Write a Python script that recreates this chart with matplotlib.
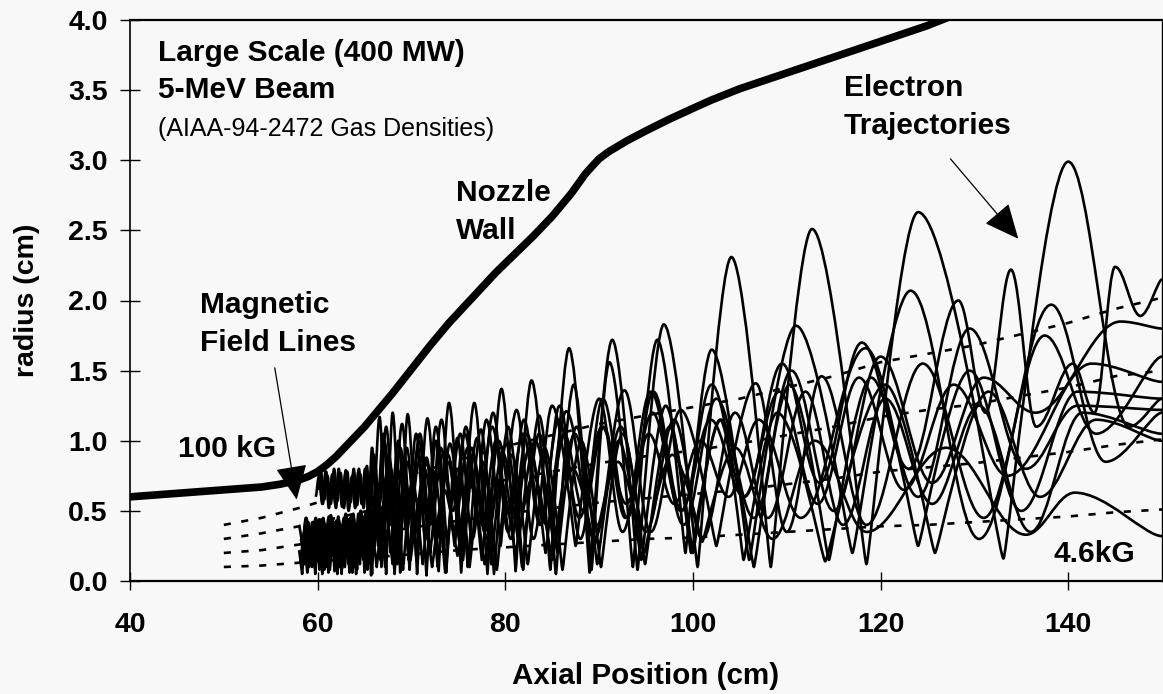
import matplotlib
matplotlib.use("Agg")
import matplotlib.pyplot as plt
from matplotlib.path import Path
from matplotlib.patches import PathPatch

plt.rcParams['font.family'] = ['Liberation Sans', 'DejaVu Sans']

# ---------------- data ----------------
X_TICKS = [40, 60, 80, 100, 120, 140]
Y_TICKS = [0.0, 0.5, 1.0, 1.5, 2.0, 2.5, 3.0, 3.5, 4.0]

# nozzle wall
WALL_X = [40, 44, 48, 52, 54, 56, 58, 59, 60, 61, 62, 63, 64, 65, 66, 67, 68, 70, 72, 74,
          76.5, 79, 81, 83, 85, 87, 88.5, 89.3, 90, 91, 92, 93, 95, 97.4, 100, 102, 105,
          109, 113, 117, 121, 125, 128]
WALL_Y = [0.60, 0.62, 0.64, 0.66, 0.67, 0.69, 0.72, 0.745, 0.78, 0.83, 0.89, 0.96, 1.03,
          1.10, 1.18, 1.26, 1.34, 1.51, 1.68, 1.84, 2.02, 2.20, 2.33, 2.46, 2.60, 2.76,
          2.90, 2.96, 3.01, 3.06, 3.10, 3.14, 3.21, 3.29, 3.37, 3.43, 3.51, 3.60, 3.69,
          3.78, 3.87, 3.96, 4.04]

# magnetic field lines (dashed)
FIELD_X = [50, 54, 58, 62, 66, 70, 75, 80, 85, 90, 95, 100, 105, 110, 115, 120, 125,
           130, 135, 140, 145, 150]
FIELD_1 = [0.10, 0.11, 0.13, 0.15, 0.17, 0.19, 0.22, 0.24, 0.26, 0.28, 0.30, 0.31, 0.33,
           0.35, 0.37, 0.39, 0.40, 0.42, 0.44, 0.46, 0.49, 0.51]
FIELD_2 = [0.20, 0.22, 0.26, 0.30, 0.34, 0.38, 0.43, 0.48, 0.52, 0.56, 0.59, 0.62, 0.65,
           0.69, 0.73, 0.78, 0.81, 0.84, 0.88, 0.92, 0.97, 1.01]
FIELD_3 = [0.30, 0.34, 0.39, 0.45, 0.51, 0.57, 0.65, 0.72, 0.78, 0.84, 0.89, 0.93, 0.98,
           1.04, 1.10, 1.17, 1.22, 1.26, 1.32, 1.38, 1.46, 1.50]
FIELD_4 = [0.40, 0.45, 0.52, 0.60, 0.68, 0.76, 0.86, 0.96, 1.04, 1.12, 1.18, 1.24, 1.30,
           1.38, 1.46, 1.56, 1.62, 1.68, 1.76, 1.84, 1.94, 2.02]

# electron trajectories: successive turning points (axial position, radius)
T1_X = [58.2, 58.6, 59.0, 59.4, 59.8, 60.2, 60.6, 61.0, 61.4, 61.8, 62.2, 62.6, 63.0, 63.4,
        63.8, 64.2, 64.6, 65.0, 65.4, 65.8, 66.6, 67.3, 68.0, 68.8, 69.6, 70.6, 71.7, 72.9,
        74.0, 75.3, 76.7, 78.1, 79.6, 81.1, 82.8, 84.8, 86.8, 89.0, 91.4, 94.1, 96.9, 100.5,
        104.1, 108.3, 112.7, 118.5, 124.0, 133.1, 140.0, 146.5, 150.0]
T1_Y = [0.30, 0.12, 0.42, 0.10, 0.40, 0.08, 0.45, 0.10, 0.42, 0.07, 0.46, 0.09, 0.44, 0.06,
        0.48, 0.08, 0.50, 0.06, 0.55, 0.05, 1.17, 0.05, 1.20, 0.06, 1.19, 0.05, 1.16, 0.07,
        1.27, 0.06, 1.27, 0.05, 1.37, 0.07, 1.43, 0.08, 1.66, 0.06, 1.72, 0.08, 1.83, 0.10,
        2.31, 0.10, 2.51, 0.12, 2.63, 0.16, 2.99, 1.10, 1.30]

T2_X = [58.0, 58.35, 58.7, 59.05, 59.4, 59.75, 60.1, 60.45, 60.8, 61.15, 61.5, 61.85, 62.2,
        62.55, 62.9, 63.3, 63.7, 64.1, 64.5, 64.9, 65.3, 65.7, 66.2, 66.8, 67.5, 68.2, 69.0,
        69.8, 70.7, 71.6, 72.6, 73.7, 74.9, 76.0, 77.4, 78.8, 80.3, 81.9, 83.6, 85.4, 87.3,
        89.2, 91.1, 93.6, 96.2, 99.2, 102.0, 106.0, 111.0, 117.0, 123.2, 130.5, 138.2,
        144.0, 150.0]
T2_Y = [0.22, 0.05, 0.30, 0.12, 0.33, 0.05, 0.30, 0.12, 0.35, 0.06, 0.33, 0.15, 0.36, 0.05,
        0.38, 0.12, 0.40, 0.05, 0.42, 0.15, 0.45, 0.04, 0.70, 0.10, 0.80, 0.05, 0.85, 0.08,
        0.95, 0.04, 1.00, 0.06, 1.02, 0.10, 1.08, 0.05, 1.10, 0.08, 1.18, 0.05, 1.40, 0.08,
        1.56, 0.10, 1.72, 0.20, 1.65, 0.15, 1.82, 0.20, 2.07, 0.30, 1.97, 0.85, 1.20]

T3_X = [58.5, 58.9, 59.3, 59.7, 60.1, 60.5, 60.9, 61.3, 61.7, 62.1, 62.5, 62.9, 63.3, 63.7,
        64.1, 64.5, 64.9, 65.3, 65.7, 66.1, 66.9, 67.8, 68.7, 69.7, 70.8, 72.0, 73.3, 74.6,
        76.0, 77.5, 79.0, 80.6, 82.3, 84.3, 86.5, 89.5, 92.7, 95.5, 98.7, 102.5, 106.7,
        110.0, 113.7, 118.5, 124.5, 131.0, 137.5, 143.0, 150.0]
T3_Y = [0.35, 0.15, 0.38, 0.18, 0.40, 0.12, 0.36, 0.20, 0.42, 0.15, 0.40, 0.18, 0.44, 0.12,
        0.40, 0.20, 0.45, 0.15, 0.42, 0.25, 0.75, 0.20, 0.78, 0.15, 0.85, 0.20, 0.90, 0.25,
        0.95, 0.15, 1.00, 0.30, 1.05, 0.20, 1.21, 0.30, 1.36, 0.35, 1.22, 0.25, 1.41, 0.35,
        1.46, 0.40, 1.55, 0.45, 1.75, 1.05, 1.60]

T4_X = [58.3, 58.7, 59.1, 59.5, 59.9, 60.3, 60.7, 61.1, 61.5, 61.9, 62.3, 62.7, 63.1, 63.5,
        63.9, 64.3, 64.7, 65.1, 65.5, 65.9, 66.5, 67.4, 68.3, 69.3, 70.3, 71.4, 72.6, 73.9,
        75.2, 76.6, 78.1, 79.7, 81.4, 83.2, 85.2, 87.4, 89.8, 92.3, 95.0, 98.0, 101.0, 104.5,
        108.0, 112.0, 116.0, 120.5, 125.5, 130.5, 136.0, 141.5, 150.0]
T4_Y = [0.20, 0.38, 0.10, 0.35, 0.15, 0.40, 0.08, 0.38, 0.18, 0.42, 0.10, 0.40, 0.20, 0.45,
        0.12, 0.42, 0.22, 0.48, 0.14, 0.50, 0.25, 0.68, 0.22, 0.72, 0.28, 0.80, 0.25, 0.85,
        0.22, 0.88, 0.30, 0.92, 0.28, 1.00, 0.25, 1.05, 0.40, 1.10, 0.35, 1.15, 0.30, 1.20,
        0.45, 1.35, 0.40, 1.30, 0.55, 1.25, 0.35, 1.20, 1.05]

T5_X = [58.1, 58.5, 58.9, 59.3, 59.7, 60.1, 60.5, 60.9, 61.3, 61.7, 62.1, 62.5, 62.9, 63.3,
        63.7, 64.1, 64.5, 64.9, 65.3, 65.7, 66.3, 67.1, 68.0, 68.9, 69.9, 71.0, 72.2, 73.5,
        74.9, 76.3, 77.8, 79.4, 81.1, 83.0, 85.0, 87.2, 89.5, 92.0, 94.8, 97.8, 101.0, 104.5,
        108.5, 113.0, 118.5, 127.0, 135.5, 140.7, 150.0]
T5_Y = [0.12, 0.28, 0.06, 0.25, 0.10, 0.30, 0.05, 0.28, 0.08, 0.32, 0.05, 0.30, 0.10, 0.34,
        0.06, 0.30, 0.12, 0.36, 0.08, 0.38, 0.10, 0.55, 0.12, 0.60, 0.15, 0.62, 0.10, 0.65,
        0.18, 0.70, 0.12, 0.72, 0.20, 0.75, 0.15, 0.80, 0.25, 0.85, 0.20, 0.90, 0.28, 0.95,
        0.30, 1.00, 0.35, 0.95, 0.33, 0.63, 0.32]

T6_X = [58.4, 58.75, 59.1, 59.45, 59.8, 60.15, 60.5, 60.85, 61.2, 61.55, 61.9, 62.25, 62.6,
        62.95, 63.3, 63.65, 64.0, 64.35, 64.7, 65.05, 65.4, 65.9, 66.7, 67.6, 68.5, 69.5,
        70.5, 71.6, 72.8, 74.1, 75.5, 77.0, 78.5, 80.1, 81.8, 83.6, 85.6, 87.6, 89.8, 92.1,
        94.5, 97.1, 99.8, 103.0, 106.5, 110.3, 114.5, 119.0, 124.0, 129.5, 135.0, 141.0,
        150.0]
T6_Y = [0.25, 0.45, 0.20, 0.42, 0.15, 0.44, 0.22, 0.40, 0.10, 0.45, 0.18, 0.42, 0.12, 0.46,
        0.20, 0.44, 0.10, 0.48, 0.18, 0.46, 0.12, 0.60, 0.15, 0.90, 0.12, 0.95, 0.18, 0.85,
        0.10, 0.98, 0.15, 1.02, 0.12, 0.98, 0.10, 1.05, 0.20, 1.10, 0.12, 1.00, 0.15, 1.25,
        0.20, 1.15, 0.10, 1.40, 0.15, 1.45, 0.25, 1.50, 0.50, 1.35, 1.30]

T7_X = [58.6, 59.0, 59.4, 59.8, 60.2, 60.6, 61.0, 61.4, 61.8, 62.2, 62.6, 63.0, 63.4, 63.8,
        64.2, 64.6, 65.0, 65.4, 65.8, 66.3, 67.0, 67.8, 68.7, 69.6, 70.6, 71.6, 72.7, 73.9,
        75.1, 76.4, 77.8, 79.3, 80.9, 82.6, 84.4, 86.3, 88.3, 90.5, 92.8, 95.3, 98.0, 100.8,
        103.8, 107.0, 111.5, 118.4, 124.0, 129.5, 135.5, 141.0, 150.0]
T7_Y = [0.18, 0.40, 0.25, 0.45, 0.22, 0.43, 0.28, 0.47, 0.24, 0.44, 0.30, 0.48, 0.26, 0.45,
        0.32, 0.50, 0.28, 0.52, 0.30, 0.65, 0.35, 0.80, 0.30, 0.85, 0.35, 0.88, 0.30, 0.90,
        0.40, 0.95, 0.35, 1.00, 0.45, 0.95, 0.40, 1.05, 0.50, 1.10, 0.45, 1.05, 0.55, 1.00,
        0.60, 1.15, 0.45, 1.66, 0.60, 1.80, 0.80, 1.25, 1.22]

T8_X = [58.0, 58.4, 58.8, 59.2, 59.6, 60.0, 60.4, 60.8, 61.2, 61.6, 62.0, 62.4, 62.8, 63.2,
        63.6, 64.0, 64.4, 64.8, 65.2, 65.7, 66.4, 67.2, 68.1, 69.1, 70.1, 71.2, 72.4, 73.6,
        74.9, 76.2, 77.6, 79.1, 80.7, 82.4, 84.2, 86.1, 88.1, 90.2, 92.5, 94.9, 97.5, 100.0,
        102.9, 105.4, 109.0, 114.1, 120.5, 125.8, 131.5, 137.0, 143.0, 150.0]
T8_Y = [0.40, 0.25, 0.45, 0.20, 0.42, 0.18, 0.44, 0.22, 0.46, 0.20, 0.43, 0.17, 0.45, 0.22,
        0.47, 0.18, 0.44, 0.20, 0.48, 0.15, 0.62, 0.10, 0.70, 0.08, 0.72, 0.12, 0.78, 0.06,
        0.80, 0.10, 0.85, 0.08, 0.90, 0.12, 0.95, 0.08, 1.00, 0.10, 1.05, 0.12, 1.10, 0.20,
        1.15, 0.15, 1.20, 0.14, 1.40, 0.20, 1.35, 0.60, 1.15, 1.00]

U1_X = [59.8, 60.15, 60.5, 60.85, 61.2, 61.55, 61.9, 62.25, 62.6, 62.95, 63.3, 63.65, 64.0,
        64.35, 64.7, 65.05, 65.4, 65.8, 66.3, 67.0, 67.7, 68.6, 69.5, 70.5, 71.5, 72.6, 73.8,
        75.2, 76.5, 78.0, 79.5, 81.2, 83.0, 85.0, 87.5, 90.0, 92.5, 95.5, 99.0, 102.5, 106.5,
        110.5, 115.0, 120.0, 125.5, 131.0, 136.5, 145.6, 150.0]
U1_Y = [0.60, 0.75, 0.55, 0.78, 0.52, 0.76, 0.55, 0.80, 0.53, 0.76, 0.50, 0.74, 0.52, 0.78,
        0.55, 0.80, 0.50, 0.95, 0.45, 1.05, 0.40, 1.00, 0.35, 1.05, 0.30, 1.10, 0.25, 1.05,
        0.30, 1.15, 0.25, 1.22, 0.30, 1.25, 0.25, 1.30, 0.35, 1.35, 0.40, 1.30, 0.45, 1.50,
        0.50, 1.60, 0.70, 1.45, 1.20, 1.85, 1.80]

U2_X = [60.0, 60.35, 60.7, 61.05, 61.4, 61.75, 62.1, 62.45, 62.8, 63.15, 63.5, 63.85, 64.2,
        64.55, 64.9, 65.25, 65.6, 66.0, 66.6, 67.3, 68.1, 69.0, 69.9, 70.9, 72.0, 73.2, 74.5,
        75.8, 77.2, 78.7, 80.3, 82.0, 83.8, 85.8, 88.0, 90.4, 93.0, 95.8, 98.8, 102.0, 105.5,
        109.5, 113.5, 118.0, 123.0, 128.3, 131.2, 133.9, 136.6, 140.5, 142.8, 145.0, 147.7,
        150.0]
U2_Y = [0.65, 0.78, 0.58, 0.75, 0.55, 0.80, 0.57, 0.77, 0.52, 0.78, 0.56, 0.80, 0.54, 0.76,
        0.52, 0.82, 0.48, 0.90, 0.55, 1.10, 0.50, 1.12, 0.45, 1.05, 0.40, 1.15, 0.35, 1.10,
        0.40, 1.20, 0.35, 1.15, 0.40, 1.25, 0.30, 1.30, 0.45, 1.35, 0.50, 1.40, 0.60, 1.55,
        0.70, 1.70, 0.80, 2.00, 1.20, 2.22, 1.10, 1.55, 1.20, 2.24, 1.89, 2.15]

U3_X = [60.2, 60.55, 60.9, 61.25, 61.6, 61.95, 62.3, 62.65, 63.0, 63.35, 63.7, 64.05, 64.4,
        64.75, 65.1, 65.45, 65.85, 66.4, 67.1, 67.9, 68.8, 69.8, 70.8, 71.9, 73.1, 74.4, 75.7,
        77.1, 78.6, 80.2, 81.9, 83.7, 85.7, 87.9, 90.3, 92.9, 95.7, 98.7, 101.9, 105.4, 109.2,
        113.3, 117.7, 122.5, 127.8, 133.5, 142.5, 150.0]
U3_Y = [0.70, 0.55, 0.78, 0.58, 0.74, 0.52, 0.77, 0.56, 0.79, 0.53, 0.75, 0.58, 0.80, 0.55,
        0.76, 0.50, 0.85, 0.60, 1.00, 0.55, 0.95, 0.50, 1.00, 0.45, 0.95, 0.50, 1.05, 0.45,
        1.10, 0.50, 1.05, 0.40, 1.15, 0.45, 1.10, 0.55, 1.20, 0.50, 1.15, 0.60, 1.35, 0.55,
        1.45, 0.65, 1.40, 0.75, 1.55, 1.42]

TRAJ_X = [T1_X, T2_X, T3_X, T4_X, T5_X, T6_X, T7_X, T8_X, U1_X, U2_X, U3_X]
TRAJ_Y = [T1_Y, T2_Y, T3_Y, T4_Y, T5_Y, T6_Y, T7_Y, T8_Y, U1_Y, U2_Y, U3_Y]


# ---------------- drawing ----------------
def turning_point_path(xs, ys):
    """Smooth path through turning points: round crests, sharp near-axis cusps."""
    n = len(xs)

    def k(i):
        if i == 0 or i == n - 1:
            return 0.2
        is_trough = ys[i] < ys[i - 1] and ys[i] < ys[i + 1]
        return 0.06 if (is_trough and ys[i] < 0.3) else 0.36

    verts = [(xs[0], ys[0])]
    codes = [Path.MOVETO]
    for i in range(n - 1):
        dx = xs[i + 1] - xs[i]
        verts += [(xs[i] + k(i) * dx, ys[i]), (xs[i + 1] - k(i + 1) * dx, ys[i + 1]),
                  (xs[i + 1], ys[i + 1])]
        codes += [Path.CURVE4] * 3
    return Path(verts, codes)


BG = '#f8f8f8'
fig = plt.figure(figsize=(11.63, 6.94), dpi=100, facecolor=BG)
ax = fig.add_axes([130 / 1163, 1 - 581 / 694, 1032 / 1163, 561 / 694], facecolor=BG)

for fy in (FIELD_1, FIELD_2, FIELD_3, FIELD_4):
    ax.plot(FIELD_X, fy, color='black', lw=1.9, dashes=[2.7, 4.0], zorder=1)

for xs, ys in zip(TRAJ_X, TRAJ_Y):
    ax.add_patch(PathPatch(turning_point_path(xs, ys), facecolor='none',
                           edgecolor='black', lw=1.9, joinstyle='round', zorder=2))

ax.plot(WALL_X, WALL_Y, color='black', lw=5.5, solid_capstyle='butt',
        solid_joinstyle='round', zorder=3)

ax.set_xlim(40, 150)
ax.set_ylim(0, 4.0)
ax.set_xticks(X_TICKS)
ax.set_yticks(Y_TICKS)
ax.set_xticklabels([str(v) for v in X_TICKS])
ax.set_yticklabels(['%.1f' % v for v in Y_TICKS])
ax.tick_params(axis='x', direction='inout', length=13, width=1, pad=16,
               labelsize=20.5)
ax.tick_params(axis='y', direction='inout', length=14, width=1, pad=9,
               labelsize=20.5)
for lab in ax.get_xticklabels() + ax.get_yticklabels():
    lab.set_fontweight('bold')
ax.spines['top'].set_linewidth(1.6)
ax.spines['bottom'].set_linewidth(1.6)
ax.spines['left'].set_linewidth(1.2)
ax.spines['right'].set_linewidth(1.0)
ax.spines['right'].set_linestyle((0, (1, 1)))

bold = dict(fontsize=21.5, fontweight='bold', color='black', va='baseline', ha='left')
ax.text(42.98, 3.71, 'Large Scale (400 MW)', **bold)
ax.text(42.98, 3.445, '5-MeV Beam', **bold)
ax.text(42.98, 3.17, '(AIAA-94-2472 Gas Densities)', fontsize=18, color='black',
        va='baseline', ha='left')
ax.text(74.74, 2.71, 'Nozzle', **bold)
ax.text(74.74, 2.44, 'Wall', **bold)
ax.text(116.06, 3.46, 'Electron', **bold)
ax.text(116.06, 3.19, 'Trajectories', **bold)
ax.text(47.45, 1.91, 'Magnetic', **bold)
ax.text(47.45, 1.64, 'Field Lines', **bold)
ax.text(45.1, 0.886, '100 kG', **bold)
ax.text(138.4, 0.136, '4.6kG', **bold)

arrow = dict(arrowstyle='-|>,head_length=1.1,head_width=0.5', lw=0.9, color='black',
             mutation_scale=20, shrinkA=0, shrinkB=0)
ax.annotate('', xy=(57.77, 0.58), xytext=(55.43, 1.52), arrowprops=arrow, zorder=4)
ax.annotate('', xy=(134.68, 2.44), xytext=(127.45, 3.01), arrowprops=arrow, zorder=4)

fig.text(646 / 1163, (694 - 684) / 694, 'Axial Position (cm)', fontsize=21.3,
         fontweight='bold', ha='center', va='baseline')
fig.text(27 / 1163, (694 - 300) / 694, 'radius (cm)', fontsize=20.5, fontweight='bold',
         ha='center', va='center', rotation=90)

fig.savefig('out.png', dpi=100, facecolor=BG)
